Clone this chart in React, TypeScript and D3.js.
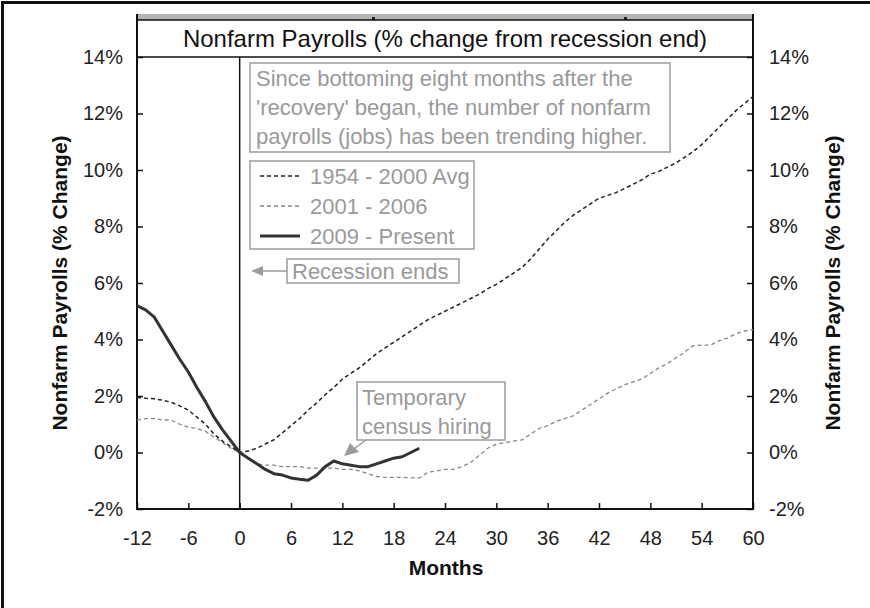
import { useEffect, useRef } from "react"
import * as d3 from "d3"

// monthly % change from recession end, month -12 .. 60
const avgStart = -12
const avg1954to2000 = [
  1.95, 1.92, 1.9, 1.85, 1.78, 1.65, 1.5, 1.25, 1.0, 0.65, 0.4, 0.2,
  0.0, 0.05, 0.15, 0.3, 0.45, 0.7, 0.95, 1.2, 1.5, 1.75, 2.05, 2.3,
  2.6, 2.8, 3.0, 3.25, 3.5, 3.7, 3.9, 4.1, 4.3, 4.5, 4.7, 4.85,
  5.0, 5.15, 5.3, 5.45, 5.6, 5.8, 5.95, 6.15, 6.35, 6.55, 6.85, 7.2,
  7.55, 7.85, 8.15, 8.4, 8.6, 8.8, 9.0, 9.1, 9.2, 9.35, 9.5, 9.65,
  9.85, 9.95, 10.1, 10.25, 10.45, 10.65, 10.9, 11.2, 11.5, 11.8, 12.1, 12.35,
  12.6,
]

const cycle2001to2006 = [
  1.15, 1.2, 1.2, 1.15, 1.15, 1.0, 0.9, 0.85, 0.75, 0.55, 0.35, 0.15,
  0.0, -0.2, -0.4, -0.45, -0.45, -0.5, -0.5, -0.5, -0.55, -0.55, -0.55, -0.55,
  -0.6, -0.6, -0.65, -0.75, -0.85, -0.88, -0.88, -0.88, -0.9, -0.9, -0.7, -0.65,
  -0.6, -0.6, -0.5, -0.35, -0.1, 0.15, 0.3, 0.35, 0.4, 0.45, 0.65, 0.85,
  0.95, 1.1, 1.2, 1.3, 1.5, 1.7, 1.9, 2.1, 2.25, 2.4, 2.5, 2.6,
  2.8, 3.0, 3.15, 3.35, 3.55, 3.78, 3.8, 3.8, 3.95, 4.05, 4.2, 4.3,
  4.35,
]

// month -12 .. 21
const present2009 = [
  5.2, 5.05, 4.8, 4.3, 3.8, 3.3, 2.85, 2.3, 1.8, 1.25, 0.8, 0.4,
  0.0, -0.2, -0.4, -0.6, -0.75, -0.8, -0.9, -0.95, -0.98, -0.8, -0.5, -0.3,
  -0.4, -0.45, -0.5, -0.5, -0.4, -0.3, -0.2, -0.15, 0.0, 0.15,
]

const xTicks = [-12, -6, 0, 6, 12, 18, 24, 30, 36, 42, 48, 54, 60]
const yTicks = [-2, 0, 2, 4, 6, 8, 10, 12, 14]

const noteLines = [
  "Since bottoming eight months after the",
  "'recovery' began, the number of nonfarm",
  "payrolls (jobs) has been trending higher.",
]
const legendItems = [
  { label: "1954 - 2000 Avg", color: "#222", width: 1.5, dash: "4,3" },
  { label: "2001 - 2006", color: "#888", width: 1.3, dash: "4,3" },
  { label: "2009 - Present", color: "#333", width: 3, dash: null as string | null },
]

export default function App() {
  const svgRef = useRef<SVGSVGElement>(null)

  useEffect(() => {
    if (!svgRef.current) return
    const svg = d3.select(svgRef.current)
    svg.selectAll("*").remove()

    const width = 870
    const height = 608
    const left = 137
    const right = 753
    const top = 57
    const bottom = 509
    const font = "Arial, 'Liberation Sans', sans-serif"
    const noteGray = "#9a9a9a"

    svg.attr("width", width).attr("height", height).style("font-family", font)
    svg.append("rect").attr("width", width).attr("height", height).attr("fill", "white")

    const x = d3.scaleLinear().domain([-12, 60]).range([left, right])
    const y = d3.scaleLinear().domain([-2, 14]).range([bottom, top])

    // outer frame (top + left only)
    svg.append("path").attr("d", `M2.5,${height} V2.5 H${width}`).attr("fill", "none").attr("stroke", "#111").attr("stroke-width", 3)

    // leftover strip above the title
    svg.append("rect").attr("x", left).attr("y", 14).attr("width", right - left).attr("height", 6).attr("fill", "#b4b4b4")
    svg.append("rect").attr("x", 372).attr("y", 17).attr("width", 3).attr("height", 3).attr("fill", "#222")
    svg.append("rect").attr("x", 624).attr("y", 17).attr("width", 3).attr("height", 3).attr("fill", "#222")

    // title band
    svg.append("line").attr("x1", left).attr("x2", right).attr("y1", 20).attr("y2", 20).attr("stroke", "#111").attr("stroke-width", 1.5)
    svg.append("line").attr("x1", left).attr("x2", right).attr("y1", top).attr("y2", top).attr("stroke", "#111").attr("stroke-width", 1.5)
    svg.append("text")
      .attr("x", (left + right) / 2)
      .attr("y", 39)
      .attr("dy", "0.35em")
      .attr("text-anchor", "middle")
      .style("font-size", "24px")
      .style("fill", "#111")
      .text("Nonfarm Payrolls (% change from recession end)")

    // axes
    const fmt = (d: d3.NumberValue) => `${d}%`
    const styleAxis = (g: d3.Selection<SVGGElement, unknown, null, undefined>) => {
      g.select(".domain").remove()
      g.selectAll(".tick line").attr("stroke", "#111").attr("stroke-width", 1.5)
      g.selectAll(".tick text").style("font-size", "20px").style("fill", "#222").attr("font-family", font)
    }

    svg.append("g")
      .attr("transform", `translate(${left},0)`)
      .call(d3.axisLeft(y).tickValues(yTicks).tickFormat(fmt).tickSize(-6).tickPadding(14))
      .call(styleAxis)
    svg.append("g")
      .attr("transform", `translate(${right},0)`)
      .call(d3.axisRight(y).tickValues(yTicks).tickFormat(fmt).tickSize(-6).tickPadding(16))
      .call(styleAxis)
    svg.append("g")
      .attr("transform", `translate(0,${bottom})`)
      .call(d3.axisBottom(x).tickValues(xTicks).tickFormat((d) => `${d}`).tickSize(-6).tickPadding(22))
      .call(styleAxis)

    // frame lines of the plot
    svg.append("path")
      .attr("d", `M${left},14 V${bottom} H${right} V14`)
      .attr("fill", "none")
      .attr("stroke", "#111")
      .attr("stroke-width", 2)

    // recession end marker
    svg.append("line").attr("x1", x(0)).attr("x2", x(0)).attr("y1", top).attr("y2", bottom).attr("stroke", "#111").attr("stroke-width", 1.5)

    // axis titles
    const titleStyle = (t: d3.Selection<SVGTextElement, unknown, null, undefined>) =>
      t.attr("text-anchor", "middle").attr("dy", "0.35em")
        .style("font-size", "21px").style("font-weight", "bold").style("fill", "#111")
    svg.append("text")
      .attr("transform", `translate(60,${(top + bottom) / 2}) rotate(-90)`)
      .call(titleStyle)
      .text("Nonfarm Payrolls (% Change)")
    svg.append("text")
      .attr("transform", `translate(833,${(top + bottom) / 2}) rotate(-90)`)
      .call(titleStyle)
      .text("Nonfarm Payrolls (% Change)")
    svg.append("text")
      .attr("x", 446)
      .attr("y", 568)
      .call(titleStyle)
      .text("Months")

    // series
    const line = d3
      .line<number>()
      .x((d, i) => x(avgStart + i))
      .y((d) => y(d))

    svg.append("path").attr("d", line(cycle2001to2006)).attr("fill", "none")
      .attr("stroke", legendItems[1].color).attr("stroke-width", legendItems[1].width).attr("stroke-dasharray", legendItems[1].dash)
    svg.append("path").attr("d", line(avg1954to2000)).attr("fill", "none")
      .attr("stroke", legendItems[0].color).attr("stroke-width", legendItems[0].width).attr("stroke-dasharray", legendItems[0].dash)
    svg.append("path").attr("d", line(present2009)).attr("fill", "none")
      .attr("stroke", legendItems[2].color).attr("stroke-width", legendItems[2].width).attr("stroke-linejoin", "round")

    // note box
    svg.append("rect").attr("x", 250).attr("y", 63).attr("width", 420).attr("height", 89)
      .attr("fill", "white").attr("stroke", noteGray).attr("stroke-width", 1.5)
    svg.append("g").selectAll("text").data(noteLines).enter().append("text")
      .attr("x", 256)
      .attr("y", (d, i) => 78 + i * 29)
      .attr("dy", "0.35em")
      .style("font-size", "22px")
      .style("fill", noteGray)
      .text((d) => d)

    // legend
    svg.append("rect").attr("x", 250).attr("y", 161).attr("width", 224).attr("height", 88)
      .attr("fill", "white").attr("stroke", noteGray).attr("stroke-width", 1.5)
    const lg = svg.append("g").selectAll("g").data(legendItems).enter().append("g")
      .attr("transform", (d, i) => `translate(260,${176 + i * 30})`)
    lg.append("line").attr("x1", 0).attr("x2", 40).attr("y1", 0).attr("y2", 0)
      .attr("stroke", (d) => d.color).attr("stroke-width", (d) => d.width)
      .attr("stroke-dasharray", (d) => d.dash)
    lg.append("text").attr("x", 50).attr("dy", "0.35em")
      .style("font-size", "22px").style("fill", noteGray).text((d) => d.label)

    // recession ends callout
    svg.append("rect").attr("x", 287).attr("y", 259).attr("width", 172).attr("height", 24)
      .attr("fill", "white").attr("stroke", noteGray).attr("stroke-width", 1.5)
    svg.append("text").attr("x", 292).attr("y", 271).attr("dy", "0.35em")
      .style("font-size", "22px").style("fill", noteGray).text("Recession ends")
    svg.append("line").attr("x1", 287).attr("x2", 258).attr("y1", 271).attr("y2", 271)
      .attr("stroke", noteGray).attr("stroke-width", 1.5)
    svg.append("path").attr("d", "M251,271 L263,266 L263,276 Z").attr("fill", noteGray)

    // census callout
    svg.append("rect").attr("x", 357).attr("y", 382).attr("width", 148).attr("height", 58)
      .attr("fill", "white").attr("stroke", noteGray).attr("stroke-width", 1.5)
    svg.append("g").selectAll("text").data(["Temporary", "census hiring"]).enter().append("text")
      .attr("x", 362).attr("y", (d, i) => 397 + i * 29).attr("dy", "0.35em")
      .style("font-size", "22px").style("fill", noteGray).text((d) => d)
    svg.append("line").attr("x1", 366).attr("x2", 354).attr("y1", 440).attr("y2", 449)
      .attr("stroke", noteGray).attr("stroke-width", 1.5)
    svg.append("path").attr("d", "M344,456 L350,443 L359,452 Z").attr("fill", noteGray)
  }, [])

  return (
    <div style={{ position: "absolute", left: 0, top: 0 }}>
      <svg ref={svgRef} style={{ display: "block" }}></svg>
    </div>
  )
}
